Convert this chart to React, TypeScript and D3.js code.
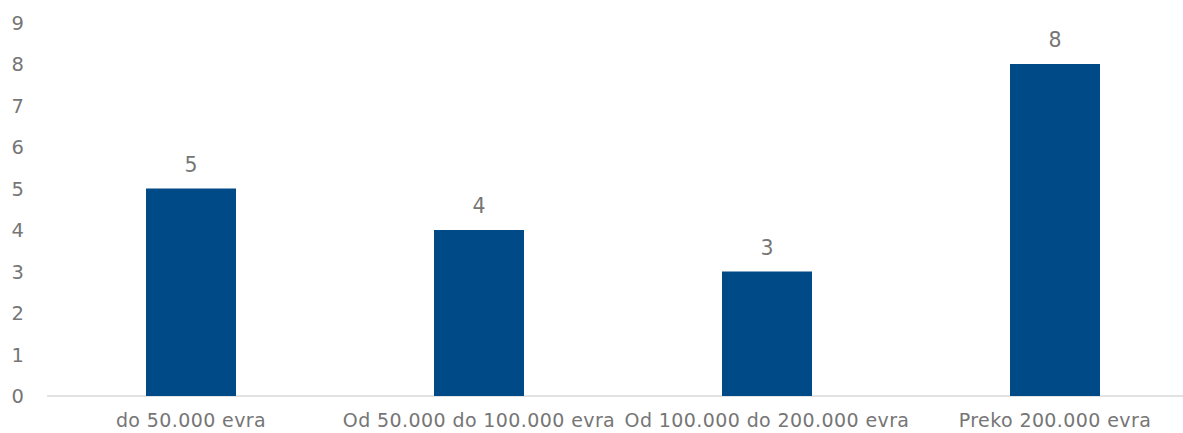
import React from "react";
import * as d3 from "d3";

const categories = ["do 50.000 evra", "Od 50.000 do 100.000 evra", "Od 100.000 do 200.000 evra", "Preko 200.000 evra"];
const values = [5, 4, 3, 8];
const yTicks = [0, 1, 2, 3, 4, 5, 6, 7, 8, 9];

const W = 1183;
const H = 433;
const FONT = "'DejaVu Sans', sans-serif";
const TEXT = "#767676";
const BAR = "#004a87";

export default function App() {
  const x = d3.scaleBand<string>().domain(categories).range([47, 1199]).paddingInner(0.6875).paddingOuter(0.34375);
  const y = d3.scaleLinear().domain([0, 9]).range([396, 22.5]);
  return (
    <svg width={W} height={H} style={{ position: "absolute", left: 0, top: 0, background: "#fff" }} fontFamily={FONT}>
      <line x1={47} x2={W} y1={y(0)} y2={y(0)} stroke="#d9d9d9" strokeWidth={1.5} />
      {yTicks.map((t) => (
        <text key={t} x={24} y={y(t)} dy="0.36em" textAnchor="end" fontSize={19.5} fill={TEXT}>
          {t}
        </text>
      ))}
      {categories.map((c, i) => (
        <g key={c}>
          <rect x={x(c)} y={y(values[i])} width={x.bandwidth()} height={y(0) - y(values[i])} fill={BAR} />
          <text x={(x(c) as number) + x.bandwidth() / 2} y={y(values[i]) - 17} textAnchor="middle" fontSize={20.5} fill={TEXT}>
            {values[i]}
          </text>
          <text x={(x(c) as number) + x.bandwidth() / 2} y={427} textAnchor="middle" fontSize={19} letterSpacing={0.4} fill={TEXT}>
            {c}
          </text>
        </g>
      ))}
    </svg>
  );
}
